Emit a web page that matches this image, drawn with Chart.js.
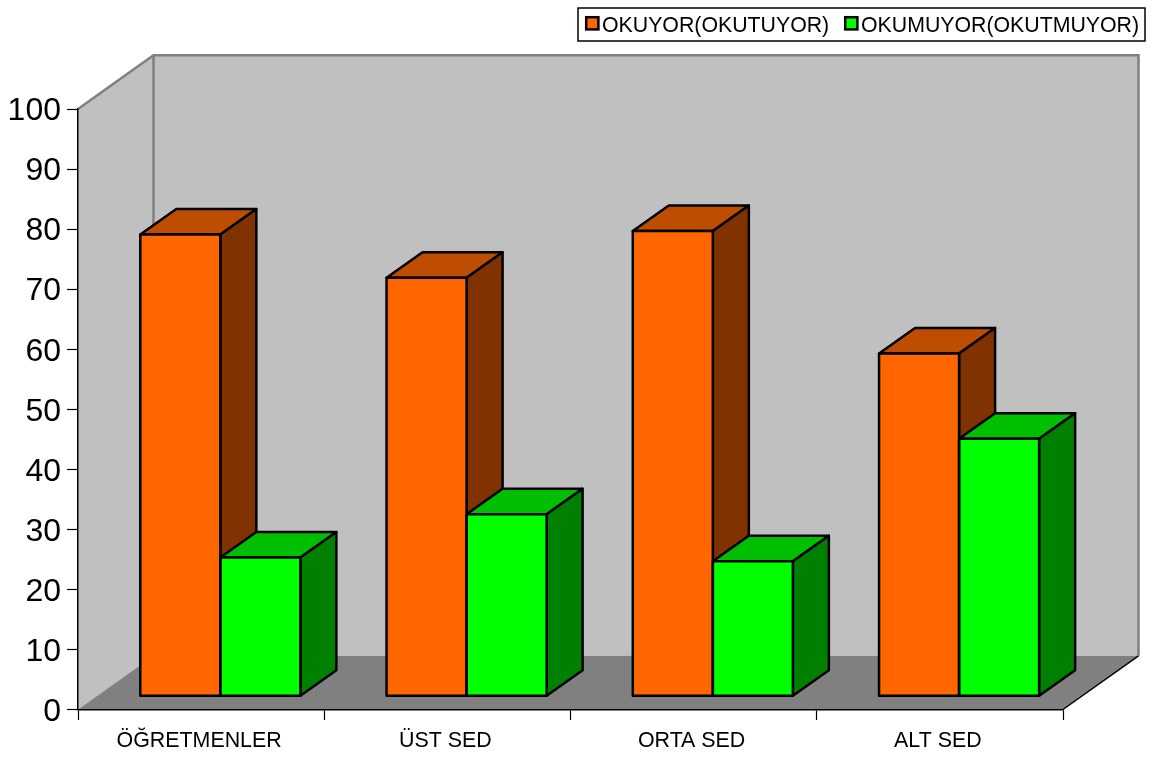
<!DOCTYPE html>
<html><head><meta charset="utf-8">
<style>html,body{margin:0;padding:0;background:#fff}canvas{display:block}</style>
<script src="https://cdn.jsdelivr.net/npm/chart.js@4"></script></head>
<body><canvas id="c" width="1169" height="759"></canvas>
<script>
const categories = ['ÖĞRETMENLER','ÜST SED','ORTA SED','ALT SED'];
const okuyor = [76.9, 69.7, 77.5, 57.1];
const okumuyor = [23.1, 30.3, 22.5, 42.9];
const seriesNames = ['OKUYOR(OKUTUYOR)','OKUMUYOR(OKUTMUYOR)'];
const FONT = '"Liberation Sans", Arial, sans-serif';
const WALL = {dx:75.5, dy:53.7};        // full depth of the box
const FRONT = {dx:19.2, dy:13.2};       // offset of bar front plane
const BAR = {dx:36, dy:25.5};           // depth of a bar
const shades = [
  {front:'#FF6600', top:'#BF4D00', side:'#803300'},
  {front:'#00FF00', top:'#00BF00', side:'#008000'}
];
function poly(ctx, pts, fill, stroke, lw){
  ctx.beginPath();
  pts.forEach((p,i)=> i?ctx.lineTo(p[0],p[1]):ctx.moveTo(p[0],p[1]));
  ctx.closePath();
  if(fill){ctx.fillStyle=fill;ctx.fill();}
  if(stroke){ctx.strokeStyle=stroke;ctx.lineWidth=lw;ctx.lineJoin='round';ctx.stroke();}
}
const box3d = {
  id:'box3d',
  beforeDraw(chart){
    const {ctx,chartArea:a} = chart;
    const l=a.left,r=a.right,t=a.top,b=a.bottom,dx=WALL.dx,dy=WALL.dy;
    ctx.save();
    poly(ctx,[[l+dx,t-dy],[r+dx,t-dy],[r+dx,b-dy],[l+dx,b-dy]],'#C0C0C0');
    poly(ctx,[[l,t],[l+dx,t-dy],[l+dx,b-dy],[l,b]],'#C0C0C0');
    poly(ctx,[[l,b],[l+dx,b-dy],[r+dx,b-dy],[r,b]],'#808080');
    ctx.strokeStyle='#808080';ctx.lineWidth=2.5;ctx.lineCap='butt';
    ctx.beginPath();
    ctx.moveTo(l,t);ctx.lineTo(l+dx,t-dy);ctx.lineTo(r+dx,t-dy);ctx.lineTo(r+dx,b-dy);
    ctx.moveTo(l+dx,t-dy);ctx.lineTo(l+dx,b-dy);
    ctx.stroke();
    ctx.strokeStyle='#000';ctx.lineWidth=1.5;
    ctx.beginPath();ctx.moveTo(r,b);ctx.lineTo(r+dx,b-dy);ctx.stroke();
    // legend
    ctx.fillStyle='#fff';ctx.fillRect(578,8,567,33);
    ctx.strokeStyle='#000';ctx.lineWidth=1.5;ctx.strokeRect(578,8,567,33);
    ctx.font='21.3px '+FONT;ctx.textBaseline='middle';ctx.textAlign='left';
    const sx=[586.2,845.2], tx=[602,861];
    seriesNames.forEach((n,i)=>{
      ctx.fillStyle=shades[i].front;ctx.fillRect(sx[i],17.2,12.2,12.2);
      ctx.strokeStyle='#000';ctx.lineWidth=2.5;ctx.strokeRect(sx[i],17.2,12.2,12.2);
      ctx.fillStyle='#000';ctx.fillText(n,tx[i],26.5);
    });
    ctx.restore();
  },
  beforeDatasetsDraw(chart){
    const ctx=chart.ctx;
    ctx.save();
    const n=categories.length;
    for(let i=0;i<n;i++){
      chart.data.datasets.forEach((d,k)=>{
        const e=chart.getDatasetMeta(k).data[i];
        const x0=e.x-e.width/2+FRONT.dx,x1=e.x+e.width/2+FRONT.dx,y=e.y-FRONT.dy,b=e.base-FRONT.dy;
        const s=shades[k];
        poly(ctx,[[x0,y],[x0+BAR.dx,y-BAR.dy],[x1+BAR.dx,y-BAR.dy],[x1,y]],s.top,'#000',2.5);
        poly(ctx,[[x1,y],[x1+BAR.dx,y-BAR.dy],[x1+BAR.dx,b-BAR.dy],[x1,b]],s.side,'#000',2.5);
      });
    }
    ctx.restore();
    ctx.save();
    ctx.translate(FRONT.dx,-FRONT.dy);
  },
  afterDatasetsDraw(chart){
    const ctx=chart.ctx;
    ctx.restore();
    ctx.save();
    chart.data.datasets.forEach((d,k)=>{
      chart.getDatasetMeta(k).data.forEach(e=>{
        const x0=e.x-e.width/2+FRONT.dx,x1=e.x+e.width/2+FRONT.dx,y=e.y-FRONT.dy,b=e.base-FRONT.dy;
        poly(ctx,[[x0,y],[x1,y],[x1,b],[x0,b]],null,'#000',2.5);
      });
    });
    ctx.restore();
  }
};
new Chart(document.getElementById('c'),{
  type:'bar',
  data:{labels:categories,datasets:[
    {label:seriesNames[0],data:okuyor,backgroundColor:shades[0].front,borderWidth:0,clip:false},
    {label:seriesNames[1],data:okumuyor,backgroundColor:shades[1].front,borderWidth:0,clip:false}
  ]},
  options:{
    responsive:false,animation:false,
    layout:{padding:{top:109,right:106,left:0,bottom:0}},
    datasets:{bar:{categoryPercentage:0.65,barPercentage:1}},
    plugins:{legend:{display:false},tooltip:{enabled:false}},
    scales:{
      x:{
        afterFit(s){s.height=49.5;},
        grid:{drawOnChartArea:false,tickLength:10.5,tickColor:'#000',tickWidth:1.2},
        border:{color:'#000',width:1.5},
        ticks:{font:{family:FONT,size:21.4},color:'#000',maxRotation:0,padding:8,labelOffset:-2}
      },
      y:{
        min:0,max:100,
        afterFit(s){s.width=78;},
        grid:{drawOnChartArea:false,tickLength:11,tickColor:'#000',tickWidth:1.2},
        border:{color:'#000',width:1.5},
        ticks:{stepSize:10,font:{family:FONT,size:32},color:'#000',padding:6,labelOffset:2.5}
      }
    }
  },
  plugins:[box3d]
});
</script></body></html>
